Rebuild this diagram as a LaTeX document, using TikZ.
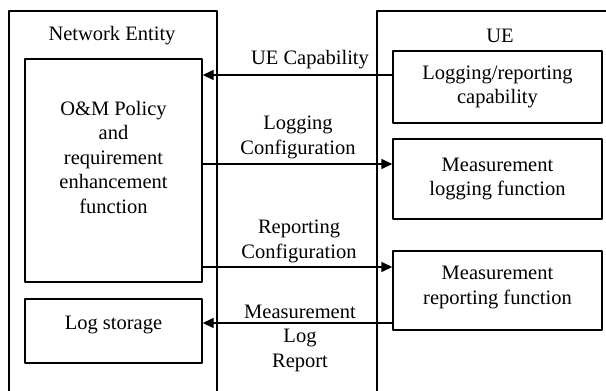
\documentclass[tikz,border=0pt]{standalone}
\usepackage{fontspec}
\setmainfont{Liberation Serif}
\usetikzlibrary{arrows.meta}

\tikzset{
    fnbox/.style={draw, line width=1.4pt, inner sep=0pt, align=center},
    msg/.style={line width=1.4pt, -{Triangle[length=11pt, width=10pt]}},
    txt/.style={align=center, inner sep=0pt}
}

\begin{document}
\begin{tikzpicture}[x=1pt, y=-1pt, line join=round, font=\fontsize{20.5}{24.5}\selectfont]
    \useasboundingbox (0,0) rectangle (606,391);

    \coordinate (NEa) at (9,391);
    \coordinate (NEb) at (9,11);
    \coordinate (NEc) at (217,11);
    \coordinate (NEd) at (217,391);
    \coordinate (UEa) at (377,391);
    \coordinate (UEb) at (377,11);
    \coordinate (UEc) at (606,11);

    \draw[line width=1.4pt] (NEa)--(NEb)--(NEc)--(NEd);
    \draw[line width=1.4pt] (UEa)--(UEb)--(UEc);

    \node[txt] (NEtitle) at (112,36) {Network Entity};
    \node[txt] (UEtitle) at (500,36) {UE};

    % network side
    \node[fnbox, minimum width=177pt, minimum height=223pt] (policy) at (113.5,170.5) {};
    \node[txt] (policytext) at (113.5,157) {O\&M Policy\\and\\requirement\\enhancement\\function};
    \node[fnbox, minimum width=177pt, minimum height=64pt] (logstore) at (113.5,331) {};
    \node[txt] (logtext) at (113.5,325) {Log storage};

    % UE side
    \node[fnbox, minimum width=209pt, minimum height=72pt] (capab) at (497.5,87) {Logging/reporting\\capability};
    \node[fnbox, minimum width=209pt, minimum height=80pt] (logfn) at (497.5,179) {Measurement\\logging function};
    \node[fnbox, minimum width=209pt, minimum height=79pt] (repfn) at (497.5,290.5) {};
    \node[txt] (reptext) at (497.5,287.5) {Measurement\\reporting function};

    \draw[msg] (capab.west |- 0,75) -- (policy.east |- 0,75);
    \draw[msg] (policy.east |- 0,164) -- (logfn.west |- 0,164);
    \draw[msg] (policy.east |- 0,267) -- (repfn.west |- 0,267);
    \draw[msg] (repfn.west |- 0,323) -- (logstore.east |- 0,323);

    \node[txt] (capmsg) at (310,60) {UE Capability};
    \node[txt] (logmsg) at (298,137.5) {Logging\\Configuration};
    \node[txt] (repmsg) at (299,241.5) {Reporting\\Configuration};
    \node[txt] (meamsg) at (300,338) {Measurement\\Log\\Report};
\end{tikzpicture}
\end{document}
